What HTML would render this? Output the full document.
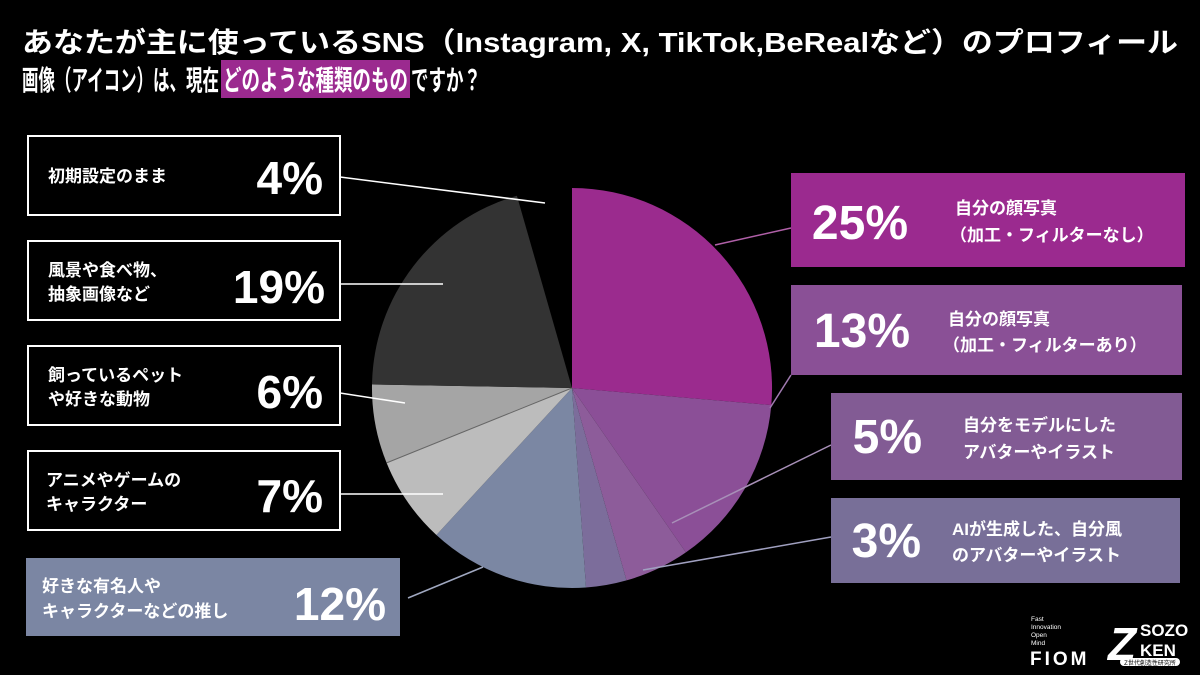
<!DOCTYPE html>
<html><head><meta charset="utf-8"><style>
html,body{margin:0;padding:0;background:#000;}
svg{display:block;}
text{font-family:"Liberation Sans","Noto Sans CJK JP",sans-serif;fill:#fff;}
.lb{font-size:17px;font-weight:bold;}
.pc{font-size:46px;font-weight:bold;}
</style></head><body>
<svg width="1200" height="675" viewBox="0 0 1200 675" xmlns="http://www.w3.org/2000/svg">
<rect width="1200" height="675" fill="#000"/>
<!-- title -->
<rect x="221" y="60" width="189" height="38" fill="#9b2a8f"/>
<text x="22" y="52" font-size="28" font-weight="bold" textLength="1156" lengthAdjust="spacingAndGlyphs">あなたが主に使っているSNS（Instagram, X, TikTok,BeRealなど）のプロフィール</text>
<text x="22" y="90" font-size="28" font-weight="bold" textLength="197" lengthAdjust="spacingAndGlyphs">画像（アイコン）は、現在</text>
<text x="223" y="90" font-size="28" font-weight="bold" textLength="185" lengthAdjust="spacingAndGlyphs">どのような種類のもの</text>
<text x="411" y="90" font-size="28" font-weight="bold" textLength="70" lengthAdjust="spacingAndGlyphs">ですか？</text>

<!-- pie -->
<path d="M572,388 L572,188 A200,200 0 0 1 771.3,405.1 Z" fill="#9b2b8e"/>
<path d="M572,388 L771.3,405.1 A200,200 0 0 1 685.9,552.4 Z" fill="#8b4f97"/>
<path d="M572,388 L685.9,552.4 A200,200 0 0 1 626.5,580.4 Z" fill="#8d5c9a"/>
<path d="M572,388 L626.5,580.4 A200,200 0 0 1 586,587.5 Z" fill="#7c6d9b"/>
<path d="M572,388 L586,587.5 A200,200 0 0 1 436.4,535 Z" fill="#7b87a3"/>
<path d="M572,388 L436.4,535 A200,200 0 0 1 386.6,462.9 Z" fill="#bcbcbc"/>
<path d="M572,388 L386.6,462.9 A200,200 0 0 1 372,384.5 Z" fill="#a5a5a5"/>
<path d="M572,388 L372,384.5 A200,200 0 0 1 516.9,195.7 Z" fill="#333"/>
<line x1="572" y1="388" x2="386.6" y2="462.9" stroke="#666" stroke-width="1"/>

<!-- leader lines -->
<g stroke-width="1.5">
<line x1="715" y1="245" x2="791" y2="228" stroke="#b060a8"/>
<line x1="770" y1="408" x2="791" y2="375" stroke="#a07ab0"/>
<line x1="672" y1="523" x2="831" y2="445" stroke="#a890b8"/>
<line x1="643" y1="570" x2="831" y2="537" stroke="#a0a0c0"/>
<line x1="408" y1="598" x2="483" y2="567" stroke="#a0a8c0"/>
<line x1="340" y1="177" x2="545" y2="203" stroke="#fff"/>
<line x1="340" y1="284" x2="443" y2="284" stroke="#fff"/>
<line x1="340" y1="393" x2="405" y2="403" stroke="#fff"/>
<line x1="340" y1="494" x2="443" y2="494" stroke="#fff"/>
</g>

<!-- left boxes -->
<g fill="none" stroke="#fff" stroke-width="2">
<rect x="28" y="136" width="312" height="79"/>
<rect x="28" y="241" width="312" height="79"/>
<rect x="28" y="346" width="312" height="79"/>
<rect x="28" y="451" width="312" height="79"/>
</g>
<rect x="26" y="558" width="374" height="78" fill="#7b86a3"/>
<text class="lb" x="48" y="182">初期設定のまま</text>
<text class="pc" x="323" y="194" text-anchor="end">4%</text>
<text class="lb" x="48" y="276">風景や食べ物、</text>
<text class="lb" x="48" y="300">抽象画像など</text>
<text class="pc" x="325" y="303" text-anchor="end">19%</text>
<text class="lb" x="48" y="381">飼っているペット</text>
<text class="lb" x="48" y="405">や好きな動物</text>
<text class="pc" x="323" y="408" text-anchor="end">6%</text>
<text class="lb" x="46" y="486">アニメやゲームの</text>
<text class="lb" x="46" y="510">キャラクター</text>
<text class="pc" x="323" y="512" text-anchor="end">7%</text>
<text class="lb" x="42" y="592">好きな有名人や</text>
<text class="lb" x="42" y="617">キャラクターなどの推し</text>
<text class="pc" x="386" y="620" text-anchor="end">12%</text>

<!-- right boxes -->
<rect x="791" y="173" width="394" height="94" fill="#9b2a8f"/>
<rect x="791" y="285" width="391" height="90" fill="#8a5096"/>
<rect x="831" y="393" width="351" height="87" fill="#825b94"/>
<rect x="831" y="498" width="349" height="85" fill="#786f98"/>
<text x="908" y="239" text-anchor="end" font-size="48" font-weight="bold">25%</text>
<text x="910" y="347" text-anchor="end" font-size="48" font-weight="bold">13%</text>
<text x="922" y="453" text-anchor="end" font-size="48" font-weight="bold">5%</text>
<text x="921" y="557" text-anchor="end" font-size="48" font-weight="bold">3%</text>
<text class="lb" x="955" y="214">自分の顔写真</text>
<text class="lb" x="950" y="241">（加工・フィルターなし）</text>
<text class="lb" x="948" y="325">自分の顔写真</text>
<text class="lb" x="943" y="351">（加工・フィルターあり）</text>
<text class="lb" x="963" y="431">自分をモデルにした</text>
<text class="lb" x="963" y="458">アバターやイラスト</text>
<text class="lb" x="952" y="535">AIが生成した、自分風</text>
<text class="lb" x="952" y="561">のアバターやイラスト</text>

<!-- logos -->
<g font-size="6.5">
<text x="1031" y="621">Fast</text>
<text x="1031" y="629">Innovation</text>
<text x="1031" y="637">Open</text>
<text x="1031" y="645">Mind</text>
</g>
<text x="1030" y="665" font-size="19" font-weight="bold" letter-spacing="3">FIOM</text>
<text x="1108" y="660" font-size="46" font-weight="bold" font-style="italic">Z</text>
<text x="1140" y="636" font-size="17" font-weight="bold">SOZO</text>
<text x="1140" y="656" font-size="17" font-weight="bold">KEN</text>
<rect x="1120" y="658" width="60" height="8" rx="4" fill="#fff"/>
<text x="1150" y="665" font-size="6" text-anchor="middle" style="fill:#000">Z世代創造性研究所</text>
</svg>
</body></html>
